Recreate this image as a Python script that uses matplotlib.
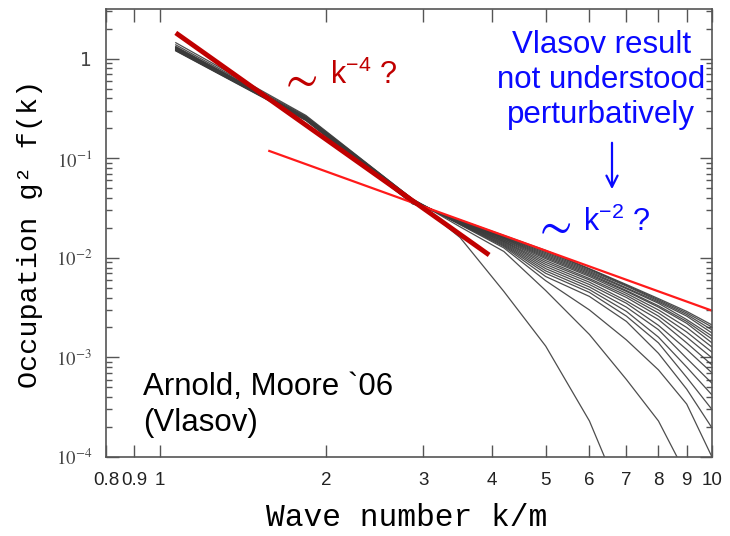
import numpy as np
import matplotlib.pyplot as plt
from matplotlib.ticker import FixedLocator, FixedFormatter, NullFormatter, NullLocator

plt.rcParams['mathtext.fontset'] = 'stix'

# ---------------- data ----------------
# common k grid (k/m) for the black curves
k_grid = [1.07, 1.84, 2.87, 3.5, 4.2, 5.0, 6.0, 7.0, 8.0, 9.0, 10.0]

# g^2 f(k) for each time slice, latest (top at high k) first
curves = [
    [1.20, 0.240, 0.035, 0.0240, 0.0168, 0.0119, 0.0078, 0.0054, 0.0039, 0.0029, 0.00212],
    [1.21, 0.242, 0.035, 0.0238, 0.0165, 0.0116, 0.0077, 0.0053, 0.0038, 0.0028, 0.00202],
    [1.22, 0.244, 0.036, 0.0236, 0.0163, 0.0113, 0.0075, 0.0052, 0.0037, 0.0027, 0.00189],
    [1.22, 0.245, 0.036, 0.0235, 0.0161, 0.0110, 0.0073, 0.0050, 0.0036, 0.0026, 0.00176],
    [1.23, 0.246, 0.036, 0.0234, 0.0159, 0.0107, 0.0071, 0.0049, 0.0035, 0.0024, 0.00164],
    [1.24, 0.247, 0.036, 0.0233, 0.0157, 0.0104, 0.0069, 0.0047, 0.0033, 0.0023, 0.00153],
    [1.24, 0.248, 0.037, 0.0231, 0.0155, 0.0101, 0.0067, 0.0046, 0.0032, 0.0022, 0.00140],
    [1.25, 0.249, 0.037, 0.0230, 0.0152, 0.0098, 0.0065, 0.0044, 0.0030, 0.0020, 0.00127],
    [1.25, 0.250, 0.037, 0.0228, 0.0150, 0.0094, 0.0062, 0.0042, 0.0028, 0.0018, 0.00113],
    [1.26, 0.251, 0.037, 0.0227, 0.0147, 0.0090, 0.0060, 0.0040, 0.0026, 0.0016, 0.00099],
    [1.27, 0.252, 0.037, 0.0225, 0.0145, 0.0086, 0.0057, 0.0037, 0.0024, 0.0014, 0.00084],
    [1.27, 0.253, 0.038, 0.0224, 0.0142, 0.0082, 0.0054, 0.0035, 0.0021, 0.0012, 0.00070],
    [1.28, 0.254, 0.038, 0.0222, 0.0139, 0.0078, 0.0051, 0.0032, 0.0019, 0.00098, 0.00055],
    [1.29, 0.255, 0.038, 0.0221, 0.0136, 0.0074, 0.0048, 0.0029, 0.0016, 0.00080, 0.00042],
    [1.30, 0.256, 0.038, 0.0219, 0.0133, 0.0070, 0.0045, 0.0026, 0.0014, 0.00063, 0.00030],
    [1.31, 0.258, 0.038, 0.0217, 0.0130, 0.0065, 0.0041, 0.0023, 0.0011, 0.00048, 0.000196],
    [1.33, 0.260, 0.039, 0.0215, 0.0126, 0.0059, 0.0030, 0.0015, 0.00075, 0.00034, 0.00010],
    [1.38, 0.265, 0.039, 0.0205, 0.0116, 0.0047, 0.0017, 0.0006, 0.00023, 0.000065, 0.00002],
    [1.45, 0.270, 0.039, 0.0160, 0.0046, 0.0013, 0.00023, 0.00003, 0.000005, 0.000001, 0.0000002],
]

# fitted power laws (end points)
k_fit4 = [1.07, 3.95]
f_fit4 = [1.82, 0.0107]
k_fit2 = [1.58, 10.0]
f_fit2 = [0.1186, 0.00295]

x_ticks = [0.8, 0.9, 1, 2, 3, 4, 5, 6, 7, 8, 9, 10]
x_ticklabels = ['0.8', '0.9', '1', '2', '3', '4', '5', '6', '7', '8', '9', '10']
y_ticks = [1e-4, 1e-3, 1e-2, 1e-1, 1]
y_ticklabels = [r'$10^{-4}$', r'$10^{-3}$', r'$10^{-2}$', r'$10^{-1}$', '1']
y_minor = [m * 10.0**e for e in range(-4, 1) for m in range(2, 10)]

# ---------------- figure ----------------
fig = plt.figure(figsize=(7.3, 5.36), dpi=100)
ax = fig.add_axes([106/730, 1 - 457/536, 606/730, 448/536])

for c in curves:
    ax.plot(k_grid, c, color='#3a3a3a', lw=0.9, alpha=0.9)

ax.plot(k_fit2, f_fit2, color='#ff1a1a', lw=1.6)
ax.plot(k_fit4, f_fit4, color='#c00000', lw=3.5, solid_capstyle='butt')

ax.set_xscale('log')
ax.set_yscale('log')
ax.set_xlim(0.8, 10)
ax.set_ylim(1e-4, 10**0.5)

ax.xaxis.set_major_locator(FixedLocator(x_ticks))
ax.xaxis.set_major_formatter(FixedFormatter(x_ticklabels))
ax.xaxis.set_minor_locator(NullLocator())
ax.yaxis.set_major_locator(FixedLocator(y_ticks))
ax.yaxis.set_major_formatter(FixedFormatter(y_ticklabels))
ax.yaxis.set_minor_locator(FixedLocator(y_minor))
ax.yaxis.set_minor_formatter(NullFormatter())

ax.tick_params(axis='both', which='both', direction='in', top=True, right=True,
               color='#555555', width=1.0)
ax.tick_params(axis='x', which='major', length=9, pad=11, labelsize=13.5,
               labelcolor='#222222')
ax.tick_params(axis='y', which='major', length=9, pad=10, labelsize=13.5,
               labelcolor='#444444')
ax.tick_params(axis='y', which='minor', length=4.5)
for lab in ax.get_xticklabels():
    lab.set_fontfamily('Liberation Sans')
for sp in ax.spines.values():
    sp.set_color('#555555')
    sp.set_linewidth(1.2)

# axis titles
fig.text(407/730, 1 - 518/536, 'Wave number k/m', ha='center', va='center',
         fontsize=22.5, family='Liberation Mono')
fig.text(30/730, 1 - 234/536, 'Occupation g\u00b2 f(k)', ha='center', va='center',
         rotation=90, fontsize=20.5, family='Liberation Mono')

# annotations
sans = ['Liberation Sans', 'DejaVu Sans']
red_dark = '#c00000'
blue = '#0a0aff'
ax.text(0.2855, 0.843, r'$\sim$', transform=ax.transAxes, ha='left', va='center',
        fontsize=34, color=red_dark)
ax.text(0.37, 0.853, r'k$\mathregular{^{-4}}$ ?', transform=ax.transAxes,
        ha='left', va='center', fontsize=22, color=red_dark, family=sans)
ax.text(0.817, 0.8415, 'Vlasov result\nnot understood\nperturbatively',
        transform=ax.transAxes, ha='center', va='center', fontsize=22.5,
        color=blue, family=sans, linespacing=1.2)
ax.annotate('', xy=(612, 536 - 192), xytext=(612, 536 - 140),
            xycoords='figure pixels', textcoords='figure pixels',
            arrowprops=dict(arrowstyle='->, head_length=0.8, head_width=0.4',
                            color=blue, lw=1.6))
ax.text(0.705, 0.515, r'$\sim$', transform=ax.transAxes, ha='left', va='center',
        fontsize=34, color=blue)
ax.text(0.787, 0.5246, r'k$\mathregular{^{-2}}$ ?', transform=ax.transAxes,
        ha='left', va='center', fontsize=22, color=blue, family=sans)
ax.text(0.061, 0.116, 'Arnold, Moore `06\n(Vlasov)', transform=ax.transAxes,
        ha='left', va='center', fontsize=22.5, color='black', family=sans,
        linespacing=1.25)

fig.savefig('out.png', dpi=100)
